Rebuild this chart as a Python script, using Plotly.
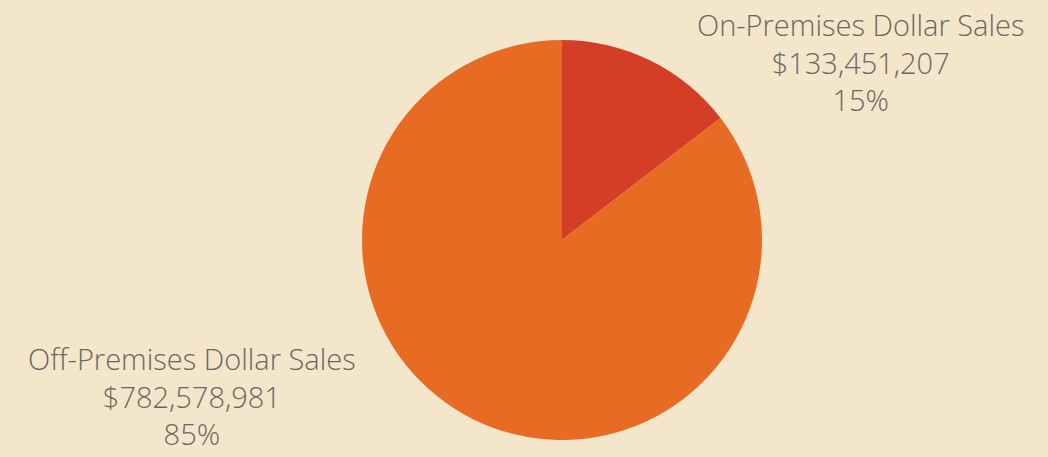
import plotly.graph_objects as go

# Data
segments = ["On-Premises Dollar Sales", "Off-Premises Dollar Sales"]
sales = [133451207, 782578981]
colors = ["#D43E27", "#E86B23"]

total = sum(sales)
label_text = [
    f"{name}<br>${val:,.0f}<br>{val / total:.0%}" for name, val in zip(segments, sales)
]

W, H = 1048, 457

fig = go.Figure(
    go.Pie(
        labels=segments,
        values=sales,
        marker=dict(colors=colors, line=dict(width=0)),
        sort=False,
        direction="clockwise",
        rotation=0,
        textinfo="none",
        hoverinfo="label+value+percent",
        showlegend=False,
        domain=dict(x=[362 / W, 762 / W], y=[1 - 440 / H, 1 - 40 / H]),
    )
)

# outside labels (pixel centre of each block)
label_pos = [(860, 62), (192, 396)]
for txt, (cx, cy) in zip(label_text, label_pos):
    fig.add_annotation(
        text=txt,
        x=cx / W,
        y=1 - cy / H,
        xref="paper",
        yref="paper",
        xanchor="center",
        yanchor="middle",
        showarrow=False,
        align="center",
        font=dict(size=29, color="#6B6662", family="Open Sans, sans-serif", weight=300),
    )

fig.update_layout(
    width=W,
    height=H,
    margin=dict(l=0, r=0, t=0, b=0),
    paper_bgcolor="#F4E6CB",
    plot_bgcolor="#F4E6CB",
)

fig.write_html(
    "out.html",
    config={"displayModeBar": False},
    post_script="document.body.style.margin='0';",
)
